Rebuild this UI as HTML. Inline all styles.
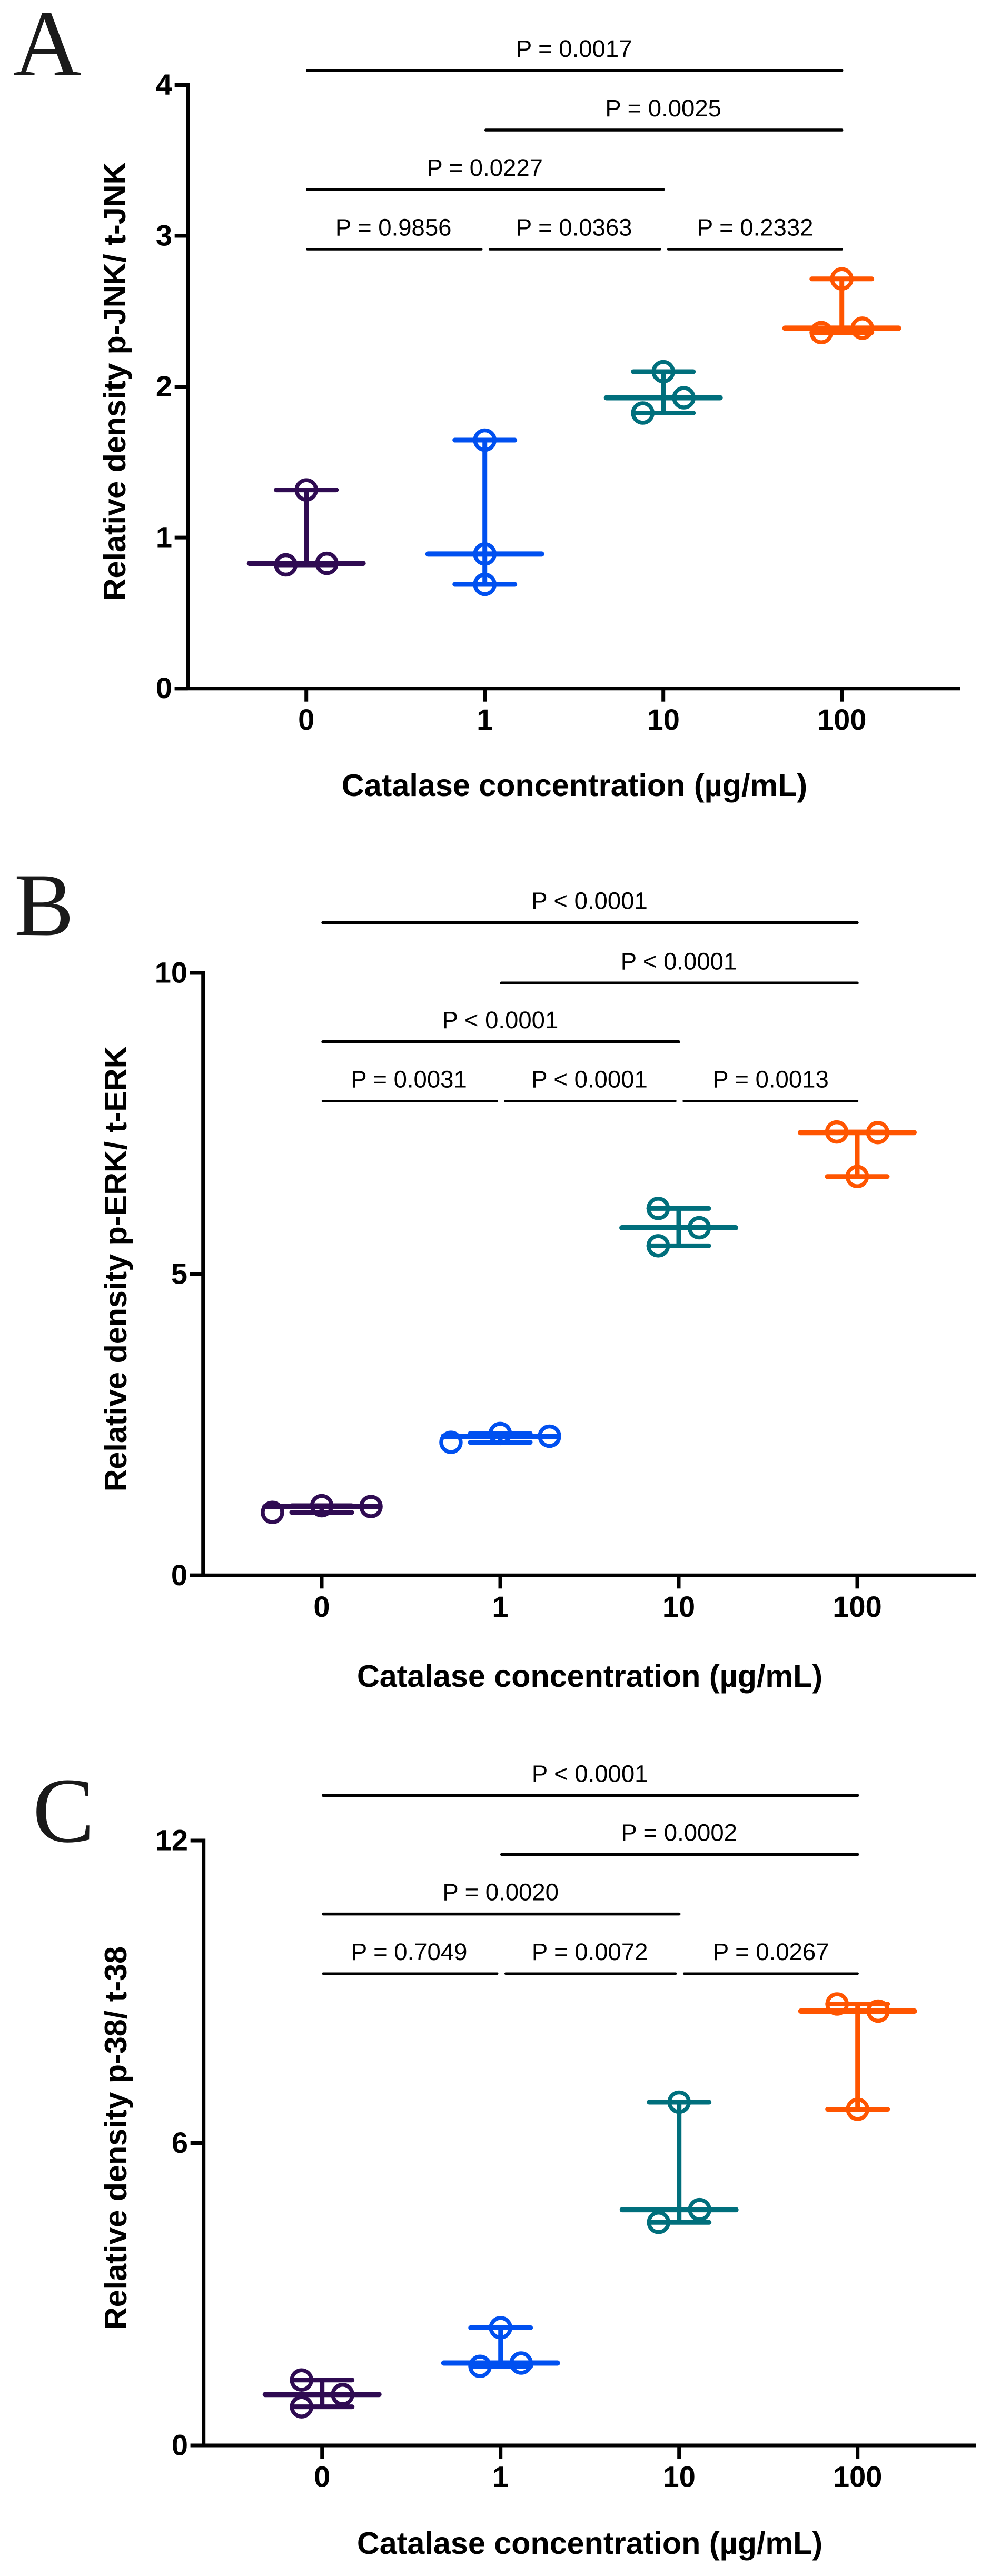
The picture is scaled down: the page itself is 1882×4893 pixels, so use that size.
<!DOCTYPE html>
<html lang="en">
<head>
<meta charset="utf-8">
<title>Relative density vs catalase concentration</title>
<style>
html,body{margin:0;padding:0;background:#fff;}
svg{display:block;}
text{font-family:"Liberation Sans",sans-serif;fill:#000;}
.letter{font-family:"Liberation Serif",serif;fill:#1a1a1a;}
.title{font-weight:700;font-size:59.3px;text-anchor:middle;}
.tick{font-weight:700;font-size:56px;}
.pval{font-size:45.5px;text-anchor:middle;}
</style>
</head>
<body>
<svg id="figure" xmlns="http://www.w3.org/2000/svg" width="1882" height="4893" viewBox="0 0 1882 4893">
  <rect width="1882" height="4893" fill="#fff"/>

  <g id="panel-a">
    <text class="letter" x="25" y="143" font-size="180">A</text>
    <text class="title" transform="translate(238,724.5) rotate(-90)">Relative density p-JNK/ t-JNK</text>
    <text class="title" x="1091" y="1512">Catalase concentration (µg/mL)</text>
  </g>

  <g id="panel-b">
    <text class="letter" x="27" y="1776" font-size="170">B</text>
    <text class="title" transform="translate(240,2410) rotate(-90)">Relative density p-ERK/ t-ERK</text>
    <text class="title" x="1120" y="3204">Catalase concentration (µg/mL)</text>
  </g>

  <g id="panel-c">
    <text class="letter" x="62" y="3498" font-size="176">C</text>
    <text class="title" transform="translate(240,4061) rotate(-90)">Relative density p-38/ t-38</text>
    <text class="title" x="1120" y="4851">Catalase concentration (µg/mL)</text>
  </g>
</svg>

<script>
// ---- shared data ----
const categories = ['0', '1', '10', '100'];
const seriesNames = ['catalase-0', 'catalase-1', 'catalase-10', 'catalase-100'];
const seriesColors = ['#2f0b52', '#0050f0', '#006f7c', '#ff5500'];

// ---- panel A values (three replicates per concentration) ----
const valuesA = [
  [0.819, 1.316, 0.829],
  [0.690, 0.891, 1.646],
  [1.826, 2.100, 1.927],
  [2.359, 2.715, 2.388]
];
// horizontal swarm offsets, as a fraction of one category step
const swarmA = [
  [-0.115, 0, 0.115],
  [0, 0, 0],
  [-0.115, 0, 0.115],
  [-0.115, 0, 0.115]
];
const yTicksA = [0, 1, 2, 3, 4];
const pLabelsA = ['P = 0.0017', 'P = 0.0025', 'P = 0.0227', 'P = 0.9856', 'P = 0.0363', 'P = 0.2332'];

// ---- panel B values ----
const valuesB = [
  [1.045, 1.156, 1.142],
  [2.208, 2.355, 2.310],
  [6.090, 5.470, 5.770],
  [7.360, 6.620, 7.350]
];
const swarmB = [
  [-0.276, 0, 0.276],
  [-0.276, 0, 0.276],
  [-0.115, -0.115, 0.115],
  [-0.115, 0, 0.115]
];
const yTicksB = [0, 5, 10];
const pLabelsB = ['P < 0.0001', 'P < 0.0001', 'P < 0.0001', 'P = 0.0031', 'P < 0.0001', 'P = 0.0013'];

// ---- panel C values ----
const valuesC = [
  [1.298, 0.766, 1.010],
  [2.335, 1.569, 1.634],
  [6.810, 4.425, 4.677],
  [8.757, 6.668, 8.616]
];
const swarmC = [
  [-0.115, -0.115, 0.115],
  [0, -0.115, 0.115],
  [0, -0.115, 0.115],
  [-0.115, 0, 0.115]
];
const yTicksC = [0, 6, 12];
const pLabelsC = ['P < 0.0001', 'P = 0.0002', 'P = 0.0020', 'P = 0.7049', 'P = 0.0072', 'P = 0.0267'];

// which categories each significance bar joins, matching the pLabels order
const bracketStarts = [0, 1, 0, 0, 1, 2];
const bracketEnds = [3, 3, 2, 1, 2, 3];

const SVG_NS = 'http://www.w3.org/2000/svg';

function makeLine(parent, x1, y1, x2, y2, color, width, cap) {
  const el = document.createElementNS(SVG_NS, 'line');
  el.setAttribute('x1', x1);
  el.setAttribute('y1', y1);
  el.setAttribute('x2', x2);
  el.setAttribute('y2', y2);
  el.setAttribute('stroke', color);
  el.setAttribute('stroke-width', width);
  el.setAttribute('stroke-linecap', cap);
  parent.appendChild(el);
  return el;
}

function makeText(parent, x, y, cls, anchor, str) {
  const el = document.createElementNS(SVG_NS, 'text');
  el.setAttribute('x', x);
  el.setAttribute('y', y);
  el.setAttribute('class', cls);
  el.setAttribute('text-anchor', anchor);
  el.textContent = str;
  parent.appendChild(el);
  return el;
}

function drawPanel(id, cfg) {
  const root = document.getElementById(id);
  const yMax = cfg.yTicks[cfg.yTicks.length - 1];
  const yScale = v => cfg.yZero - (v / yMax) * (cfg.yZero - cfg.yTop);
  const xScale = i => cfg.xFirst + i * cfg.xStep;

  // axes
  const yAxis = makeLine(root, cfg.axisX, cfg.yTop - 3.5, cfg.axisX, cfg.yZero, '#000', 7, 'butt');
  
  
  const xAxis = makeLine(root, cfg.axisX - 25, cfg.yZero, cfg.xEnd, cfg.yZero, '#000', 7, 'butt');
  
  

  cfg.yTicks.forEach(t => {
    const y = yScale(t);
    const tick = makeLine(root, cfg.axisX - 25, y, cfg.axisX, y, '#000', 7, 'butt');
    
    
    const label = makeText(root, cfg.axisX - 29.7, y + 18.5, 'tick', 'end', String(t));
    
    
  });

  categories.forEach((c, i) => {
    const x = xScale(i);
    const tick = makeLine(root, x, cfg.yZero, x, cfg.yZero + 25, '#000', 7, 'butt');
    
    
    const label = makeText(root, x, cfg.yZero + 78.5, 'tick', 'middle', c);
    
    
  });

  // significance bars: top three rows are full spans, the fourth row is split with small gaps
  cfg.pLabels.forEach((txt, i) => {
    const row = Math.min(i, 3);
    const y = cfg.sigRows[row];
    const split = i >= 3;
    const x1 = xScale(bracketStarts[i]) + (split && bracketStarts[i] > 0 ? 7.5 : 0);
    const x2 = xScale(bracketEnds[i]) + (split && bracketEnds[i] < 3 ? -6.5 : 0);
    const bar = makeLine(root, x1 + 2, y, x2, y, '#000', split ? 4.5 : 5.5, 'round');
    
    
    const labelShift = split ? (bracketStarts[i] === 0 ? -4 : (bracketStarts[i] === 2 ? 5 : 0)) : 0;
    const label = makeText(root, (xScale(bracketStarts[i]) + xScale(bracketEnds[i])) / 2 + labelShift, y - 26, 'pval', 'middle', txt);
    
    
  });

  // median-with-range marks plus replicate circles
  cfg.values.forEach((group, i) => {
    const g = document.createElementNS(SVG_NS, 'g');
    
    
    root.appendChild(g);
    const color = seriesColors[i];
    const x = xScale(i);
    const sorted = group.slice().sort((a, b) => a - b);
    const lo = yScale(sorted[0]);
    const med = yScale(sorted[1]);
    const hi = yScale(sorted[2]);

    group.forEach((v, k) => {
      const dot = document.createElementNS(SVG_NS, 'circle');
      dot.setAttribute('cx', x + cfg.swarm[i][k] * cfg.xStep);
      dot.setAttribute('cy', yScale(v));
      dot.setAttribute('r', 18.5);
      dot.setAttribute('fill', 'none');
      dot.setAttribute('stroke', color);
      dot.setAttribute('stroke-width', 7.5);
      
      
      g.appendChild(dot);
    });

    const range = makeLine(g, x, hi, x, lo, color, 9, 'butt');
    
    
    const capHi = makeLine(g, x - 57, hi, x + 57, hi, color, 9, 'round');
    
    
    const capLo = makeLine(g, x - 57, lo, x + 57, lo, color, 9, 'round');
    
    
    const median = makeLine(g, x - 108, med, x + 108, med, color, 10, 'round');
    
    
  });
}

drawPanel('panel-a', {
  values: valuesA, swarm: swarmA, yTicks: yTicksA, pLabels: pLabelsA,
  axisX: 356.7, yZero: 1307.7, yTop: 161.5, xFirst: 581.7, xStep: 339, xEnd: 1824,
  sigRows: [134, 247, 360, 473.5]
});
drawPanel('panel-b', {
  values: valuesB, swarm: swarmB, yTicks: yTicksB, pLabels: pLabelsB,
  axisX: 385.7, yZero: 2992.3, yTop: 1848, xFirst: 611, xStep: 339, xEnd: 1854,
  sigRows: [1752.6, 1867.3, 1978.8, 2091.4]
});
drawPanel('panel-c', {
  values: valuesC, swarm: swarmC, yTicks: yTicksC, pLabels: pLabelsC,
  axisX: 386.7, yZero: 4645, yTop: 3496, xFirst: 611.7, xStep: 339, xEnd: 1854,
  sigRows: [3410.3, 3522.4, 3635.6, 3748.8]
});
</script>
</body>
</html>
